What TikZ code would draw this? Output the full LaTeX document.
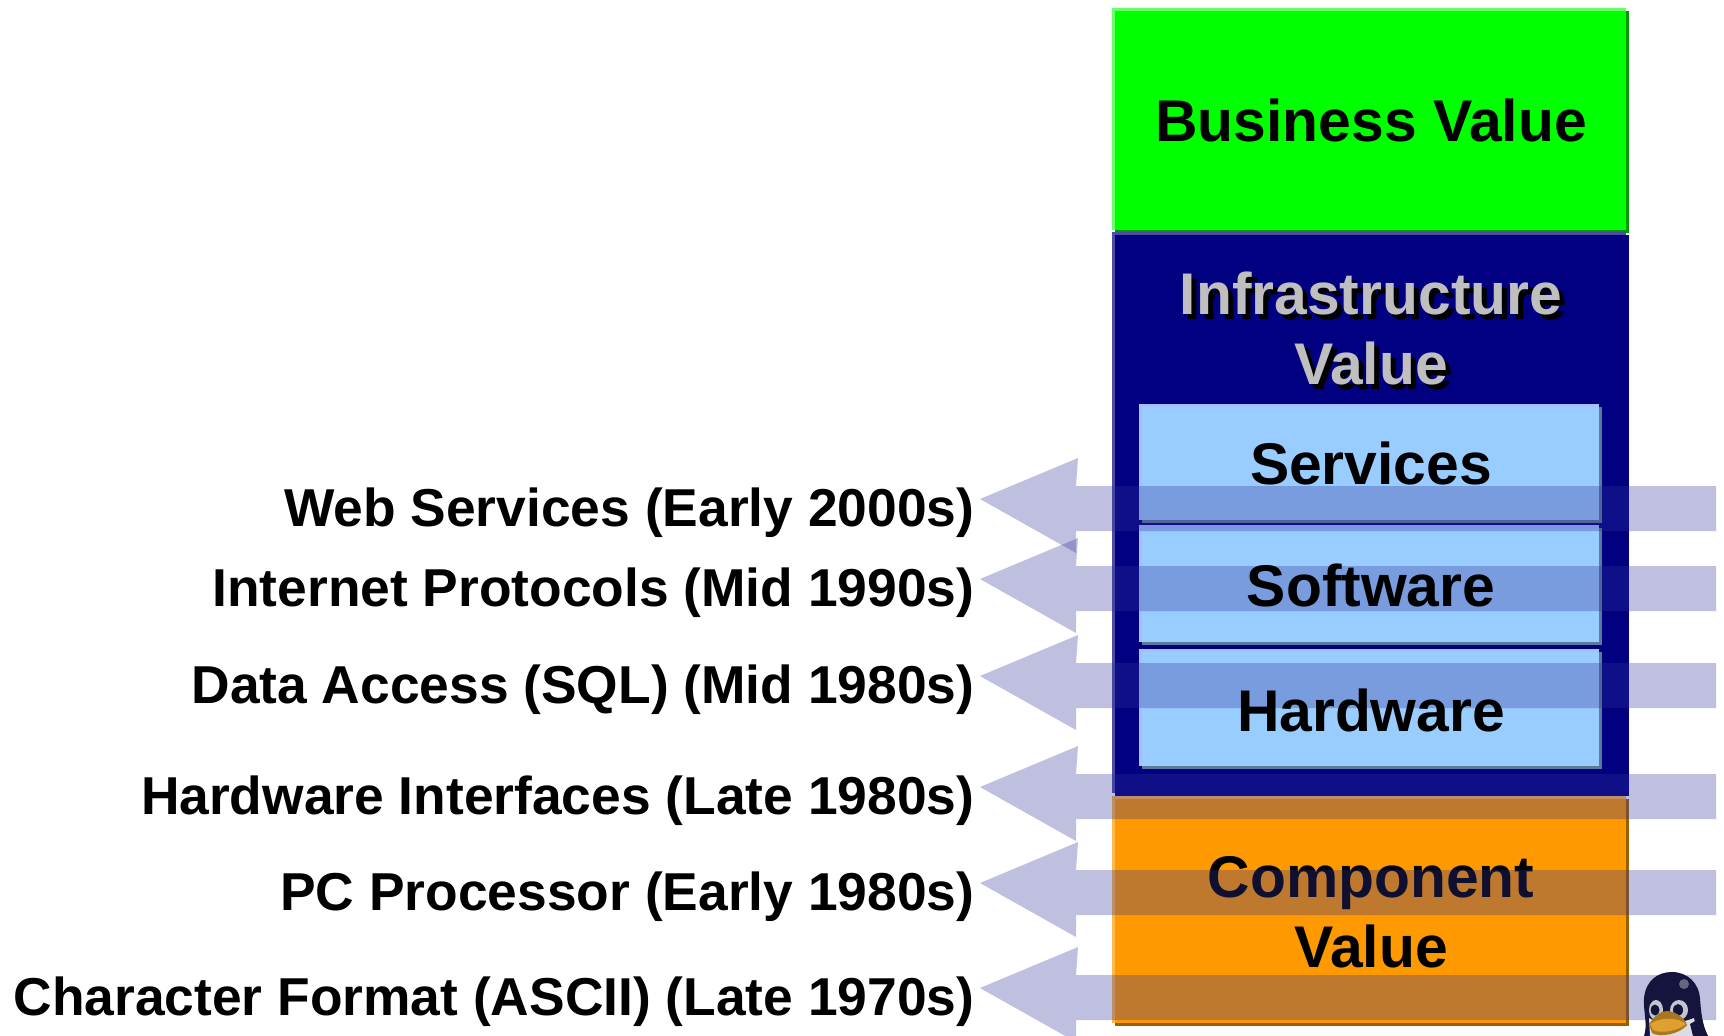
\documentclass[tikz,border=0pt]{standalone}
\usepackage{fontspec}
\setmainfont{Liberation Sans}
\definecolor{grn}{HTML}{00FF00}\definecolor{grnhi}{HTML}{66FF66}\definecolor{grndk}{HTML}{009900}
\definecolor{nvy}{HTML}{000080}\definecolor{nvyhi}{HTML}{4D4DA6}\definecolor{nvydk}{HTML}{000080}
\definecolor{lbl}{HTML}{99CCFF}\definecolor{lblhi}{HTML}{A6BFFF}\definecolor{lbldk}{HTML}{5C7A99}
\definecolor{org}{HTML}{FF9900}\definecolor{orghi}{HTML}{FFB84D}\definecolor{orgdk}{HTML}{996000}
\definecolor{arw}{HTML}{333399}
\definecolor{pdark}{HTML}{14143C}\definecolor{pbeak}{HTML}{E0A030}\definecolor{pbeakdk}{HTML}{A87820}
\newcommand{\bevelbox}[7]{%
  \fill[#7] ({#1+3},{#2+3}) rectangle ({#3},{#4});
  \fill[#6] (#1,#2) rectangle ({#3-3},{#4-3});
  \fill[#5] ({#1+2.5},{#2+2.5}) rectangle ({#3-3},{#4-3});
}
\tikzset{
  biglabel/.style={anchor=base,font=\fontsize{58.8}{59}\selectfont\bfseries,inner sep=0pt,align=center},
  yearlabel/.style={anchor=base east,font=\fontsize{53.35}{53}\selectfont\bfseries,inner sep=0pt},
  bandarrow/.style={fill=arw,fill opacity=.31,draw=none}
}
\begin{document}
\begin{tikzpicture}[x=1pt,y=-1pt]
\useasboundingbox (0,0) rectangle (1724,1036);
\clip (0,0) rectangle (1724,1036);
\fill[white] (0,0) rectangle (1724,1036);
% stacked value boxes
\bevelbox{1112}{8}{1629}{233}{grn}{grnhi}{grndk}
\bevelbox{1112}{232}{1629}{796}{nvy}{nvyhi}{nvydk}
\bevelbox{1139}{404}{1602}{523}{lbl}{lblhi}{lbldk}
\bevelbox{1139}{525}{1602}{645}{lbl}{lblhi}{lbldk}
\bevelbox{1139}{649}{1602}{769}{lbl}{lblhi}{lbldk}
\bevelbox{1112}{796}{1629}{1026}{org}{orghi}{orgdk}
% box labels under the bands
\node[biglabel] (business) at (1371,141) {Business Value};
\node[biglabel,text=black] (infraS) at (1376,319) {Infrastructure};
\node[biglabel,text=black] (valueS) at (1376,389) {Value};
\node[biglabel,text=black!25] (infra) at (1371,314) {Infrastructure};
\node[biglabel,text=black!25] (value) at (1371,384) {Value};
\node[biglabel] (component) at (1371,897) {Component};
\node[biglabel] (compvalue) at (1371,967) {Value};
% band arrows
\foreach \t in {499,579,676,787,883,988}{
  \fill[bandarrow] (980,\t) -- (1078,{\t-41}) -- (1076,{\t-13}) -- (1716,{\t-13})
    -- (1716,{\t+32}) -- (1076,{\t+32}) -- (1076,{\t+54}) -- cycle;
}
% labels above the bands
\node[biglabel] (services) at (1371,484) {Services};
\node[biglabel] (software) at (1371,606) {Software};
\node[biglabel] (hardware) at (1371,731) {Hardware};
% year labels
\node[yearlabel] (web) at (974.5,526) {Web Services (Early 2000s)};
\node[yearlabel] (inet) at (974.5,606) {Internet Protocols (Mid 1990s)};
\node[yearlabel] (sql) at (974.5,703) {Data Access (SQL) (Mid 1980s)};
\node[yearlabel] (hwif) at (974.5,814) {Hardware Interfaces (Late 1980s)};
\node[yearlabel] (pc) at (974.5,910) {PC Processor (Early 1980s)};
\node[yearlabel] (ascii) at (974.5,1015) {Character Format (ASCII) (Late 1970s)};
% penguin
\fill[pdark] (1644,1036) .. controls (1648,1025) and (1643,1010) .. (1644,998)
  .. controls (1646,980) and (1658,972) .. (1672,972)
  .. controls (1688,972) and (1699,984) .. (1700,998)
  .. controls (1701,1012) and (1702,1024) .. (1708,1036) -- cycle;
\fill[white!85!pdark] (1649,1018) .. controls (1660,1025) and (1676,1025) .. (1694,1018) -- (1698,1036) -- (1650,1036) -- cycle;
\fill[pdark] (1690,1024) -- (1697,1020) -- (1708,1036) -- (1693,1036) -- cycle;
\fill[white!75!pdark] (1656,1010) ellipse (7 and 10);
\fill[white!75!pdark] (1679,1010) ellipse (9 and 10);
\fill[pdark] (1655,1010) ellipse (4.5 and 5.5);
\fill[pdark] (1678,1010) ellipse (5 and 6);
\fill[white!35!pdark] (1684,984) circle (5);
\fill[pbeakdk] (1649,1024) .. controls (1655,1016) and (1660,1011) .. (1667,1011)
  .. controls (1675,1011) and (1685,1018) .. (1687,1025)
  .. controls (1680,1034) and (1660,1038) .. (1652,1033) -- cycle;
\fill[pbeak] (1650,1024) .. controls (1658,1018) and (1676,1016) .. (1686,1024)
  .. controls (1678,1031) and (1660,1034) .. (1653,1030) -- cycle;
\end{tikzpicture}
\end{document}
